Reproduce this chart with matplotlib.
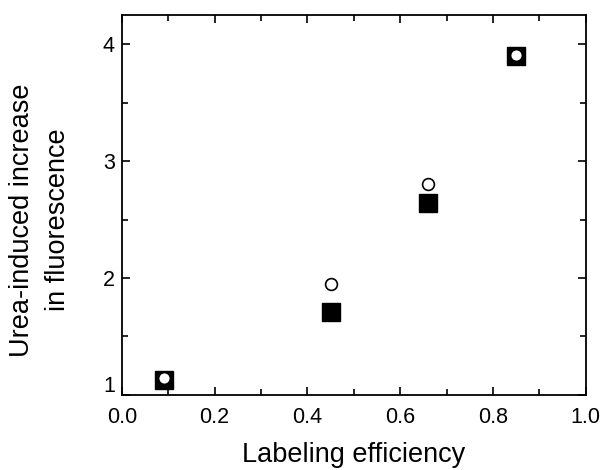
import matplotlib
matplotlib.use('Agg')
import matplotlib.pyplot as plt
import matplotlib.transforms as mtransforms
from matplotlib.ticker import MultipleLocator

# labeling efficiency vs urea-induced fluorescence increase
efficiency = [0.09, 0.45, 0.66, 0.85]
increase_squares = [1.13, 1.71, 2.64, 3.90]
increase_circles = [1.14, 1.95, 2.80, 3.91]

plt.rcParams['font.family'] = ['Liberation Sans', 'DejaVu Sans']

fig = plt.figure(figsize=(6.09, 4.70), dpi=100)
ax = fig.add_axes([0.200, 0.160, 0.762, 0.808])

ax.plot(efficiency, increase_squares, linestyle='none', marker='s',
        markersize=13, color='black')
ax.plot(efficiency, increase_circles, linestyle='none', marker='o',
        markersize=8.5, markerfacecolor='white', markeredgecolor='black',
        markeredgewidth=1.2)

ax.set_xlim(0.0, 1.0)
ax.set_ylim(1.0, 4.25)
ax.xaxis.set_major_locator(MultipleLocator(0.2))
ax.xaxis.set_minor_locator(MultipleLocator(0.1))
ax.yaxis.set_major_locator(MultipleLocator(1))
ax.yaxis.set_minor_locator(MultipleLocator(0.5))
ax.xaxis.set_major_formatter(plt.FuncFormatter(lambda v, p: f'{v:.1f}'))
ax.yaxis.set_major_formatter(plt.FuncFormatter(lambda v, p: f'{v:.0f}'))

ax.tick_params(which='both', direction='in', top=True, right=True,
               labelsize=15.5, width=1.2)
ax.tick_params(which='major', length=6)
ax.tick_params(which='minor', length=4)
ax.tick_params(axis='x', pad=9)
ax.tick_params(axis='y', pad=5)
for s in ax.spines.values():
    s.set_linewidth(1.3)

# lift the "1" a little so it clears the "0.0"
fig.canvas.draw()
for lab in ax.get_yticklabels():
    if lab.get_text() == '1':
        lab.set_transform(lab.get_transform() +
                          mtransforms.ScaledTranslation(0, 8 / 72, fig.dpi_scale_trans))

ax.set_xlabel('Labeling efficiency', fontsize=19.5)
ax.xaxis.set_label_coords(0.5, -0.125)
ax.set_ylabel('Urea-induced increase\nin fluorescence', fontsize=19.5, linespacing=1.5)
ax.yaxis.set_label_coords(-0.11, 0.46)

fig.savefig('out.png', dpi=100)
